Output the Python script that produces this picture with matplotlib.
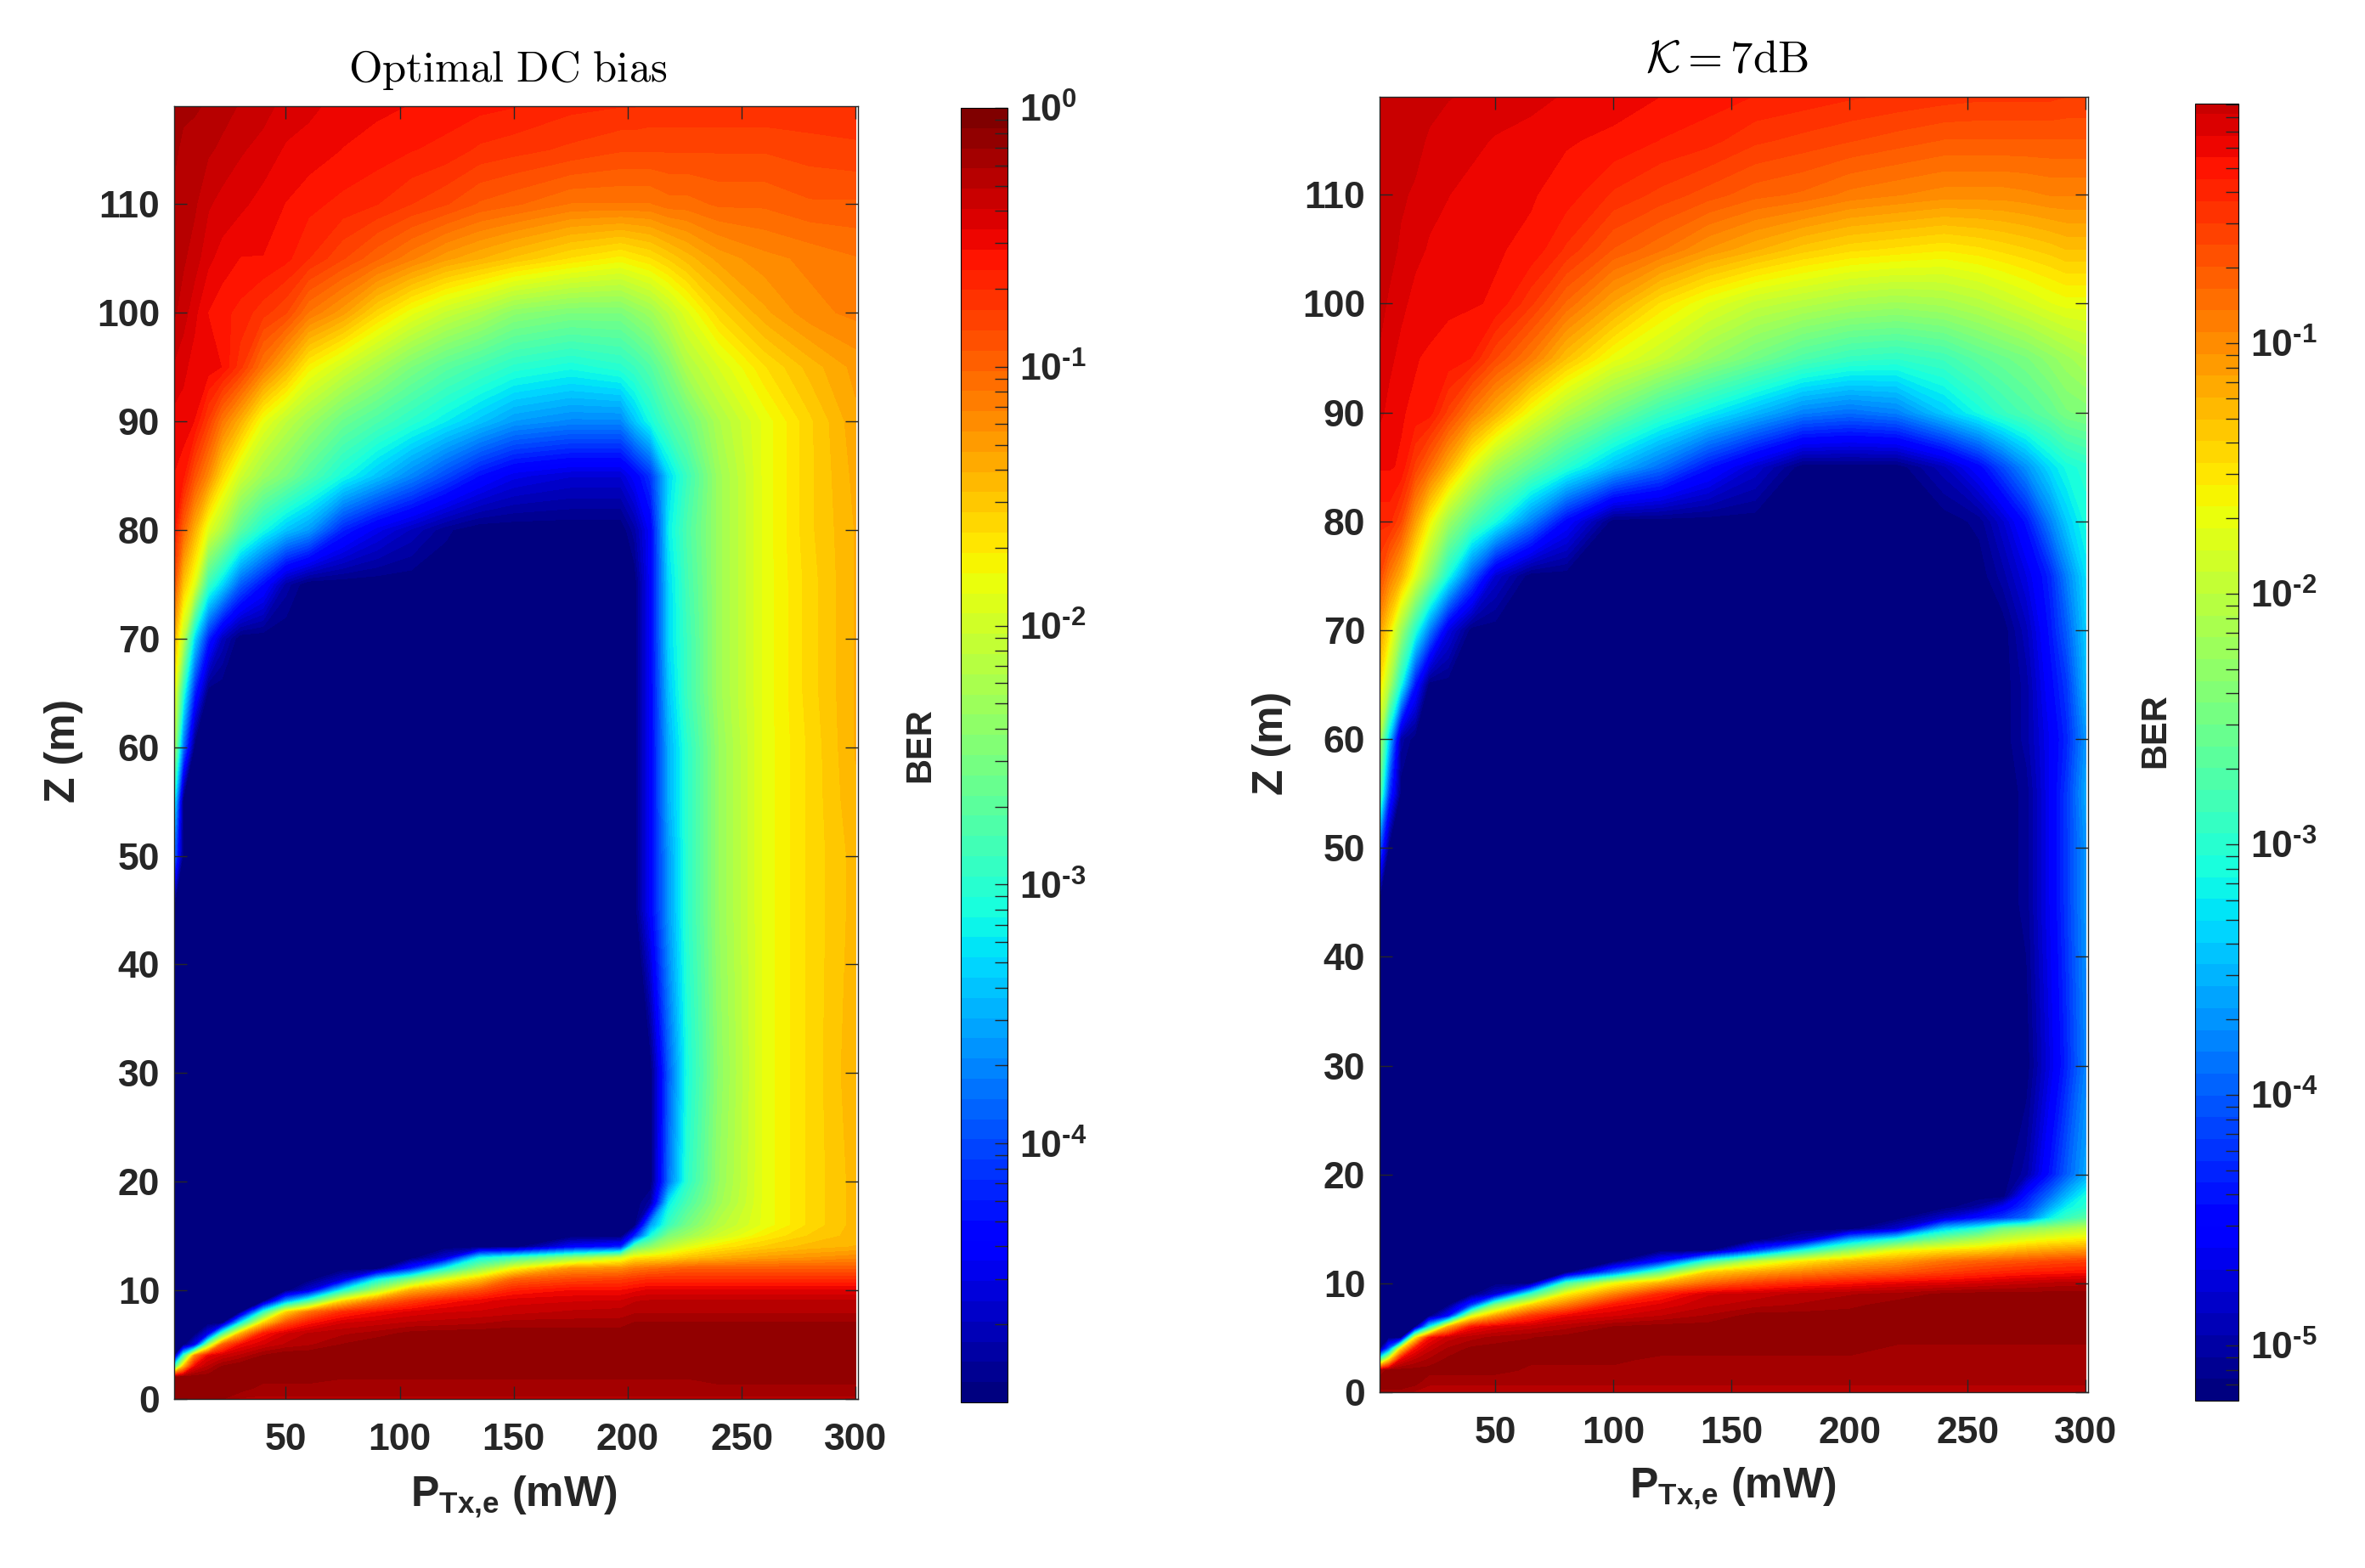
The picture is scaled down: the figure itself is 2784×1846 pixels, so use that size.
import numpy as np
import matplotlib
matplotlib.use("Agg")
import matplotlib.pyplot as plt
from matplotlib.colors import LogNorm, Normalize
from matplotlib.cm import ScalarMappable
from matplotlib.ticker import LogLocator, NullFormatter, FixedLocator, FixedFormatter

plt.rcParams['font.family'] = ['Liberation Sans', 'DejaVu Sans']
plt.rcParams['mathtext.fontset'] = 'custom'
plt.rcParams['mathtext.bf'] = 'Liberation Sans:bold'
plt.rcParams['mathtext.rm'] = 'Liberation Sans:bold'
plt.rcParams['mathtext.default'] = 'bf'

# ---- Data: log10(BER) ----
P_left = [1,5,10,16,22,30,40,50,60,75,90,105,120,135,150,175,197,203,210,218,226,240,260,280,300]
Z_left = list(range(17)) + [18,20,30,45,50,55,60,65,70,75,80,85,90,95,100,105,110,115,119]
A = -5
logber_left = [
 [-.15]*5+[-.25]*20,
 [-.1]*6+[-.2]*19,
 [-.1]*9+[-.15]*12+[-.08]*4,
 [-3,-1.5,-.5,-.3,-.15]+[-.08]*20,
 [A,-3,-1.2,-.5,-.4,-.3,-.15]+[-.08]*18,
 [A,A,-4.5,-2.3,-1,-.55,-.4,-.3,-.25,-.15]+[-.08]*15,
 [A,A,A,-4.5,-2.8,-1.4,-.6,-.4,-.3,-.25,-.2,-.12]+[-.1]*13,
 [A]*5+[-3.2,-1.6,-.9,-.6,-.4,-.35,-.3,-.28,-.25,-.2,-.2,-.2]+[-.15]*8,
 [A]*6+[-3,-1.6,-1.1,-.7,-.55,-.45,-.4,-.38,-.35,-.3,-.28]+[-.25]*8,
 [A]*7+[-3.6,-2.8,-1.6,-1.1,-.8,-.6,-.5,-.42,-.4,-.38,-.32]+[-.3]*7,
 [A]*8+[-4.6,-3.1,-2.2,-1.4,-1.15,-.9,-.65,-.55,-.55,-.5]+[-.45]*7,
 [A]*9+[-4.6,-3.2,-2.5,-1.9,-1.5,-1,-.85,-.8,-.75]+[-.7]*7,
 [A]*11+[-4.2,-3.1,-2.4,-1.8,-1.25,-1.2,-1.1,-1.05,-1]+[-.95]*5,
 [A]*12+[-4.6,-3.2,-2.9,-2.4,-2,-1.7,-1.65,-1.6,-1.5,-1.4,-1.3,-1.25,-1.2],
 [A]*15+[-4.4,-4.2,-2.7,-2.4,-2.1,-1.9,-1.7,-1.55,-1.45,-1.4],
 [A]*17+[-4.2,-3.1,-2.5,-2.3,-2,-1.72,-1.55,-1.45],
 [A]*18+[-3.6,-2.9,-2.55,-2.15,-1.85,-1.62,-1.45],
 [A]*18+[-4.8,-3.2,-2.8,-2.3,-1.85,-1.62,-1.45],
 [A]*19+[-3.8,-3,-2.35,-1.85,-1.62,-1.45],
 [A]*19+[-3.9,-3.1,-2.4,-1.85,-1.62,-1.42],
 [A]*18+[-4.4,-3.6,-3,-2.35,-1.85,-1.62,-1.45],
 [-3.8]+[A]*17+[-4.4,-3.6,-3,-2.35,-1.85,-1.62,-1.45],
 [-3.1]+[A]*17+[-4.4,-3.5,-3,-2.35,-1.85,-1.62,-1.42],
 [-2.2,-3.8]+[A]*16+[-4.4,-3.5,-3,-2.35,-1.85,-1.62,-1.4],
 [-1.8,-3,-4.2]+[A]*15+[-4.4,-3.4,-2.9,-2.3,-1.85,-1.6,-1.4],
 [-1.4,-2.1,-3.3,-4.2,-4.7]+[A]*13+[-4.4,-3.3,-2.9,-2.3,-1.85,-1.6,-1.4],
 [-.9,-1.5,-1.9,-2.9,-3.3,-3.9,-4.3,-4.8]+[A]*10+[-4.4,-3.3,-2.85,-2.3,-1.85,-1.6,-1.4],
 [-.6,-1,-1.4,-1.9,-2.2,-2.7,-3.1,-3.4,-3.6,-4.2,-4.5,-4.7,-4.9,A,A,A,A,-4.8,-4.4,-3.2,-2.8,-2.3,-1.85,-1.58,-1.4],
 [-.55,-.6,-.9,-1.2,-1.6,-2,-2.3,-2.5,-2.75,-3.1,-3.4,-3.7,-4,-4.3,-4.5,-4.6,-4.6,-4.4,-4.1,-3.3,-2.9,-2.3,-1.85,-1.58,-1.38],
 [-.5,-.5,-.55,-.8,-1.1,-1.4,-1.85,-2.1,-2.3,-2.6,-2.8,-3,-3.2,-3.4,-3.6,-3.7,-3.7,-3.4,-3.1,-2.8,-2.6,-2.2,-1.85,-1.58,-1.35],
 [-.4,-.45,-.5,-.5,-.55,-.75,-1.1,-1.4,-1.75,-2,-2.25,-2.5,-2.7,-2.85,-3,-3.1,-3,-2.9,-2.75,-2.5,-2.2,-1.95,-1.65,-1.45,-1.3],
 [-.3,-.35,-.45,-.55,-.6,-.65,-.75,-.85,-1.1,-1.3,-1.6,-1.85,-2.05,-2.2,-2.4,-2.5,-2.5,-2.4,-2.3,-2.1,-1.9,-1.6,-1.35,-1.2,-1.15],
 [-.3,-.3,-.35,-.45,-.5,-.55,-.55,-.6,-.7,-.85,-1,-1.15,-1.3,-1.4,-1.5,-1.65,-1.75,-1.7,-1.65,-1.55,-1.45,-1.3,-1.2,-1.15,-1.1],
 [-.25,-.28,-.3,-.38,-.42,-.45,-.5,-.55,-.6,-.65,-.7,-.78,-.85,-.95,-1,-1.1,-1.1,-1.1,-1.1,-1.05,-1.05,-1,-1,-.95,-.95],
 [-.22,-.25,-.28,-.3,-.33,-.38,-.42,-.48,-.5,-.55,-.58,-.62,-.65,-.72,-.75,-.8,-.85,-.85,-.85,-.85,-.85,-.85,-.85,-.82,-.8],
 [-.2,-.22,-.22,-.25,-.28,-.32,-.36,-.42,-.45,-.5,-.53,-.55,-.58,-.6,-.62,-.68,-.7,-.7,-.72,-.72,-.72,-.72,-.72,-.72,-.72],
]

P_right = [1,5,10,16,22,30,40,50,65,80,100,120,140,160,180,200,220,240,255,265,275,285,292,300]
Z_right = list(range(19)) + [20,30,45,50,55,60,65,70,75,80,85,90,95,100,105,110,115,119]
B = -5.2
logber_right = [
 [.15]*3+[.07]*21,
 [.24]*4+[.1]*20,
 [.1]+[.22]*7+[.15]*16,
 [-2.8,-1.5,-.2,0,.1]+[.2]*6+[.15]*13,
 [B,-4,-1.5,-.3,-.05,.1,.2]+[.22]*9+[.15]*8,
 [B,B,B,-1.6,-.3,-.05,.05,.12,.17]+[.22]*15,
 [B]*4+[-3.2,-1.2,-.3,-.15,-.05,.05,.18]+[.22]*13,
 [B]*5+[-4.5,-1.8,-1.1,-.5,-.2,-.1,0,.1]+[.22]*11,
 [B]*6+[-4.2,-2.4,-1.4,-.9,-.3,-.15,-.02,.05,.1,.15]+[.22]*8,
 [B]*7+[-4.8,-2.9,-1.6,-.95,-.4,-.1,-.05,.03,.08,.12,.2]+[.22]*6,
 [B]*9+[-2.8,-1.7,-1.2,-.8,-.55,-.4,-.3,-.2,-.15,-.1,-.05,-.02,.02,.04,.05],
 [B]*10+[-3.9,-2.6,-1.4,-1.15,-.95,-.8,-.7,-.55,-.45,-.4,-.35,-.33,-.31,-.3],
 [B]*11+[-4.4,-2.9,-2,-1.55,-1.25,-1.1,-.85,-.75,-.7,-.65,-.6,-.57,-.55],
 [B]*13+[-4.2,-3.1,-2.3,-1.7,-1.5,-1.4,-1.3,-1.2,-1.12,-1.08,-1.05],
 [B]*14+[-4.9,-3.6,-3,-2.4,-2.1,-1.9,-1.75,-1.65,-1.6,-1.55],
 [B]*16+[-4.8,-3.4,-3,-2.5,-2.35,-2.2,-2.1,-2],
 [B]*17+[-4.8,-4.4,-4.2,-3.9,-3.2,-2.9,-2.7],
 [B]*18+[-5,-4.6,-4.2,-3.6,-3.2,-3],
 [B]*20+[-4.4,-3.9,-3.5,-3.1],
 [B]*20+[-5,-4.4,-4,-3.6],
 [B]*21+[-4.7,-4.3,-3.8],
 [B]*20+[-5.1,-4.6,-4.2,-3.7],
 [-4]+[B]*19+[-5.1,-4.6,-4.2,-3.7],
 [-2.6,-4.2]+[B]*18+[-5.1,-4.6,-4.2,-3.6],
 [-2.1,-3.4,-5]+[B]*17+[-5,-4.6,-4.3,-3.7],
 [-1.5,-2.1,-3.1,-4.4]+[B]*16+[-5,-4.5,-4.2,-3.5],
 [-1.1,-1.5,-2.2,-3,-3.8,-4.7]+[B]*14+[-4.9,-4.4,-4,-3.4],
 [-.6,-.9,-1.2,-1.75,-2.3,-3.1,-4,-4.8]+[B]*11+[-5,-4.7,-4.3,-3.8,-3.3],
 [-.4,-.4,-.6,-1.1,-1.6,-2.2,-2.7,-3.1,-3.8,-4.5]+[B]*8+[-5.1,-4.8,-4.4,-3.8,-3.4,-3.1],
 [-.25,-.25,-.27,-.55,-.8,-1.2,-1.75,-2.2,-2.6,-3,-3.5,-3.9,-4.4,-4.8,B,B,B,-4.9,-4.5,-4.1,-3.7,-3.3,-3.1,-3],
 [-.15,-.2,-.25,-.28,-.3,-.55,-.9,-1.2,-1.7,-2.1,-2.5,-2.9,-3.2,-3.5,-3.8,-3.9,-3.8,-3.4,-3.1,-2.9,-2.75,-2.6,-2.45,-2.4],
 [-.1,-.15,-.2,-.25,-.28,-.28,-.35,-.6,-.9,-1.3,-1.7,-1.95,-2.25,-2.5,-2.75,-2.9,-2.95,-2.85,-2.65,-2.55,-2.45,-2.3,-2.2,-2.1],
 [-.05,-.1,-.15,-.2,-.2,-.25,-.25,-.27,-.5,-.8,-1.15,-1.5,-1.75,-1.95,-2.05,-2.15,-2.2,-2.15,-2.05,-1.95,-1.85,-1.75,-1.7,-1.7],
 [-.04,-.05,-.1,-.15,-.18,-.2,-.22,-.25,-.28,-.45,-.7,-.85,-1.05,-1.2,-1.35,-1.45,-1.5,-1.55,-1.5,-1.45,-1.4,-1.35,-1.3,-1.3],
 [-.03,-.04,-.07,-.1,-.15,-.17,-.2,-.22,-.25,-.3,-.45,-.55,-.65,-.75,-.8,-.9,-.95,-1,-1,-1,-.98,-.95,-.95,-.95],
 [-.02,-.03,-.04,-.05,-.1,-.13,-.15,-.18,-.2,-.25,-.28,-.35,-.4,-.5,-.55,-.6,-.65,-.7,-.7,-.7,-.7,-.7,-.7,-.7],
 [-.02,-.02,-.03,-.03,-.05,-.08,-.1,-.12,-.15,-.18,-.22,-.26,-.3,-.35,-.38,-.42,-.45,-.48,-.5,-.5,-.5,-.5,-.52,-.52],
]

x_ticks = [50,100,150,200,250,300]
y_ticks = list(range(0,120,10))
cb_left_exp = [0,-1,-2,-3,-4]
cb_right_exp = [-1,-2,-3,-4,-5]

# ---- Layout in pixels ----
W, H = 2784, 1846
fig = plt.figure(figsize=(W/100, H/100), dpi=100, facecolor='white')
def box(x0, y0, x1, y1):
    return [x0/W, 1-y1/H, (x1-x0)/W, (y1-y0)/H]
def ftext(x, y, s, **kw):
    fig.text(x/W, 1-y/H, s, ha='center', va='center', **kw)

DARK = '#262626'
FS = 32
cmap = plt.get_cmap('jet', 64)

def exp_label(e):
    return '$\\mathbf{10^{%s}}$' % (str(e) if e >= 0 else '\\text{-}%d' % -e)

def panel(axbox, cbox, P, Z, vals, lo, hi, exps, cb_top):
    ax = fig.add_axes(box(*axbox))
    levels = np.linspace(lo, hi, 65)
    ax.contourf(P, Z, np.array(vals, float), levels=levels, cmap=cmap,
                norm=Normalize(lo, hi), extend='both', antialiased=False)
    ax.set_xlim(1, 301)
    ax.set_ylim(0, 119)
    ax.set_xticks(x_ticks)
    ax.set_yticks(y_ticks)
    ax.tick_params(direction='in', length=11, width=1, top=True, right=True,
                   labelsize=FS, labelcolor=DARK, color='#262626', pad=12)
    ax.tick_params(axis='x', pad=20)
    for t in ax.get_xticklabels() + ax.get_yticklabels():
        t.set_fontweight('bold')
    for s in ax.spines.values():
        s.set_linewidth(1.0); s.set_color('#262626')
    cax = fig.add_axes(box(*cbox))
    sm = ScalarMappable(LogNorm(10.0**lo, 10.0**hi), cmap)
    cb = fig.colorbar(sm, cax=cax)
    cax.yaxis.set_major_locator(FixedLocator([10.0**e for e in exps]))
    cax.yaxis.set_major_formatter(FixedFormatter([exp_label(e) for e in exps]))
    cax.yaxis.set_minor_locator(LogLocator(base=10, subs=range(2, 10), numticks=12))
    cax.yaxis.set_minor_formatter(NullFormatter())
    cax.set_ylim(10.0**lo, 10.0**cb_top)
    cax.tick_params(which='both', direction='in', length=11, width=1, right=True, color='#262626')
    cax.tick_params(which='major', labelsize=FS, labelcolor=DARK, pad=10)
    cb.outline.set_linewidth(0.8)
    return ax

panel((205,125,1010,1647), (1131,127,1186,1651), P_left, Z_left, logber_left, -5.0, 0.0, cb_left_exp, 0.0)
panel((1624,114,2458,1639), (2584,122,2635,1649), P_right, Z_right, logber_right, -5.22, 0.35, cb_right_exp, -0.044)

ftext(598, 83, r'$\mathrm{Optimal\ DC\ bias}$', fontsize=36.5, math_fontfamily='cm', color='black')
ftext(2033, 71, r'$\mathcal{K}{=}\mathrm{7dB}$', fontsize=38, math_fontfamily='cm', color='black')

lab = dict(fontsize=36, fontweight='bold', color=DARK)
ftext(605, 1762, r'P$_{\mathbf{Tx{,}e}}$ (mW)', **lab)
ftext(2040, 1752, r'P$_{\mathbf{Tx{,}e}}$ (mW)', **lab)
ftext(75, 884, 'Z (m)', rotation=90, **lab)
ftext(1497, 875, 'Z (m)', rotation=90, **lab)
ftext(1083, 877, 'BER', rotation=90, fontsize=30, fontweight='bold', color=DARK)
ftext(2537, 860, 'BER', rotation=90, fontsize=30, fontweight='bold', color=DARK)

fig.savefig('out.png', dpi=100, facecolor='white')
